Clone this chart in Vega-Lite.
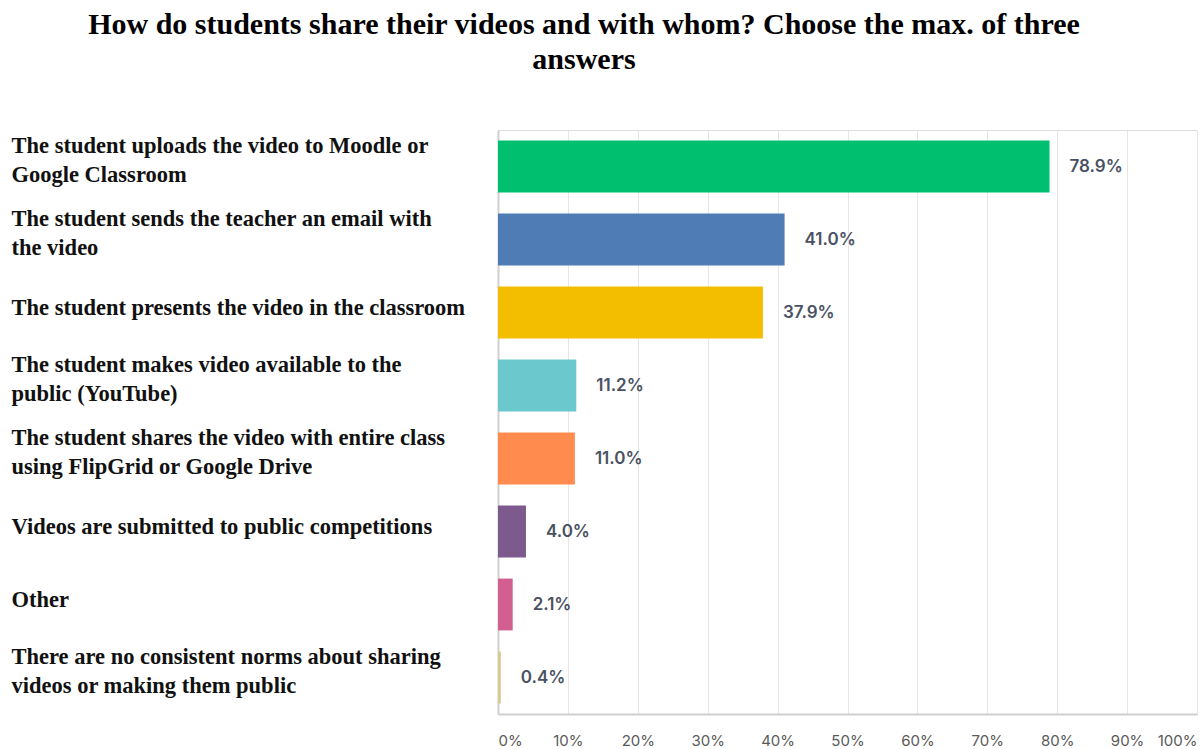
{
  "$schema": "https://vega.github.io/schema/vega-lite/v6.json",
  "width": 699,
  "height": 584,
  "autosize": {"type": "none"},
  "padding": {"left": 498, "top": 130, "right": 6, "bottom": 35},
  "background": "white",
  "title": {
    "text": ["How do students share their videos and with whom? Choose the max. of three", "answers"],
    "font": "Liberation Serif",
    "fontSize": 30,
    "fontWeight": "bold",
    "color": "#000000",
    "anchor": "middle",
    "frame": "bounds",
    "offset": 55,
    "lineHeight": 35,
    "dx": -20
  },
  "data": {
    "values": [
      {"answer": "The student uploads the video to Moodle or\nGoogle Classroom", "share": 0.789},
      {"answer": "The student sends the teacher an email with\nthe video", "share": 0.410},
      {"answer": "The student presents the video in the classroom", "share": 0.379},
      {"answer": "The student makes video available to the\npublic (YouTube)", "share": 0.112},
      {"answer": "The student shares the video with entire class\nusing FlipGrid or Google Drive", "share": 0.110},
      {"answer": "Videos are submitted to public competitions", "share": 0.040},
      {"answer": "Other", "share": 0.021},
      {"answer": "There are no consistent norms about sharing\nvideos or making them public", "share": 0.004}
    ]
  },
  "encoding": {
    "y": {
      "field": "answer",
      "type": "nominal",
      "sort": null,
      "scale": {"paddingInner": 0.29, "paddingOuter": 0.145},
      "axis": {
        "title": null,
        "ticks": false,
        "tickSize": 0,
        "domain": true,
        "domainColor": "#d0d0d0",
        "domainWidth": 2,
        "labelAlign": "left",
        "labelBaseline": "middle",
        "labelPadding": 487,
        "labelLimit": 490,
        "labelFont": "Liberation Serif",
        "labelFontSize": 22.5,
        "labelFontWeight": "bold",
        "labelColor": "#111111",
        "labelLineHeight": 29,
        "labelOffset": {"condition": {"test": "indexof(datum.value, '\\n') >= 0", "value": -21}, "value": -5},
        "labelExpr": "split(datum.value, '\\n')"
      }
    },
    "x": {
      "field": "share",
      "type": "quantitative",
      "scale": {"domain": [0, 1], "nice": false},
      "axis": {
        "title": null,
        "values": [0, 0.1, 0.2, 0.3, 0.4, 0.5, 0.6, 0.7, 0.8, 0.9, 1],
        "format": ".0%",
        "grid": true,
        "gridColor": "#e6e6e6",
        "gridWidth": 1,
        "domain": true,
        "domainColor": "#d0d0d0",
        "domainWidth": 2,
        "ticks": false,
        "tickSize": 0,
        "labelFlush": true,
        "labelPadding": 19,
        "labelFont": "Inter",
        "labelFontSize": 15,
        "labelColor": "#5a5a5a"
      }
    }
  },
  "layer": [
    {
      "mark": {"type": "bar"},
      "encoding": {
        "color": {
          "field": "answer",
          "type": "nominal",
          "sort": null,
          "legend": null,
          "scale": {
            "range": ["#00BF6F", "#507CB6", "#F4BE00", "#6BC8CD", "#FF8B4F", "#7D5A8E", "#D25F90", "#D9C98D"]
          }
        }
      }
    },
    {
      "mark": {
        "type": "text",
        "align": "left",
        "baseline": "middle",
        "dx": 20,
        "font": "Inter",
        "fontSize": 17,
        "fontWeight": 600,
        "color": "#4a5162"
      },
      "encoding": {
        "text": {"field": "share", "type": "quantitative", "format": ".1%"}
      }
    }
  ]
}
